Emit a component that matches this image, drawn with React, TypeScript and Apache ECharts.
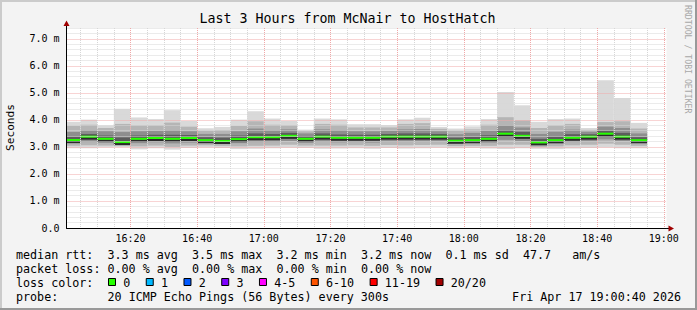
import React, { useEffect, useRef } from 'react';
import * as echarts from 'echarts';

// ---- data ----
const intervalEnds = [
  '16:05', '16:10', '16:15', '16:20', '16:25', '16:30', '16:35', '16:40', '16:45', '16:50', '16:55', '17:00',
  '17:05', '17:10', '17:15', '17:20', '17:25', '17:30', '17:35', '17:40', '17:45', '17:50', '17:55', '18:00',
  '18:05', '18:10', '18:15', '18:20', '18:25', '18:30', '18:35', '18:40', '18:45', '18:50', '18:55',
];
const pingMin = [2.95, 2.95, 2.98, 2.99, 2.91, 2.95, 2.90, 2.96, 2.98, 2.96, 2.92, 2.93, 2.95, 2.97, 2.96, 2.93, 2.94, 2.95, 2.93, 2.96, 2.94, 2.95, 2.97, 2.95, 2.96, 2.94, 2.92, 2.95, 2.93, 2.92, 2.94, 2.96, 2.98, 2.95, 2.95];
const pingP10 = [3.04, 3.06, 3.05, 3.04, 3.02, 3.05, 3.00, 3.05, 3.06, 3.04, 3.02, 3.04, 3.05, 3.08, 3.05, 3.05, 3.05, 3.06, 3.04, 3.07, 3.06, 3.07, 3.08, 3.03, 3.04, 3.04, 3.08, 3.08, 3.00, 3.02, 3.06, 3.08, 3.12, 3.08, 3.04];
const pingP25 = [3.13, 3.18, 3.15, 3.10, 3.14, 3.17, 3.13, 3.16, 3.14, 3.12, 3.14, 3.18, 3.18, 3.22, 3.15, 3.19, 3.17, 3.18, 3.16, 3.20, 3.20, 3.20, 3.21, 3.11, 3.13, 3.16, 3.26, 3.22, 3.07, 3.12, 3.18, 3.21, 3.28, 3.22, 3.13];
const pingP40 = [3.20, 3.30, 3.24, 3.14, 3.24, 3.27, 3.24, 3.26, 3.20, 3.17, 3.23, 3.29, 3.29, 3.34, 3.24, 3.31, 3.27, 3.28, 3.27, 3.31, 3.31, 3.31, 3.32, 3.18, 3.20, 3.25, 3.40, 3.34, 3.13, 3.20, 3.28, 3.32, 3.41, 3.32, 3.20];
const medianRtt = [3.26, 3.38, 3.30, 3.18, 3.30, 3.33, 3.30, 3.33, 3.25, 3.22, 3.29, 3.36, 3.36, 3.41, 3.30, 3.38, 3.34, 3.34, 3.34, 3.38, 3.38, 3.38, 3.38, 3.23, 3.25, 3.30, 3.49, 3.41, 3.17, 3.25, 3.34, 3.38, 3.49, 3.38, 3.25];
const pingP60 = [3.38, 3.48, 3.42, 3.35, 3.42, 3.45, 3.45, 3.44, 3.36, 3.34, 3.42, 3.50, 3.48, 3.52, 3.40, 3.50, 3.46, 3.45, 3.45, 3.48, 3.50, 3.50, 3.48, 3.34, 3.37, 3.43, 3.62, 3.55, 3.30, 3.38, 3.47, 3.47, 3.60, 3.52, 3.36];
const pingP75 = [3.55, 3.62, 3.58, 3.55, 3.58, 3.60, 3.62, 3.58, 3.48, 3.48, 3.58, 3.68, 3.62, 3.65, 3.50, 3.65, 3.62, 3.58, 3.58, 3.60, 3.65, 3.66, 3.58, 3.47, 3.52, 3.60, 3.80, 3.72, 3.48, 3.56, 3.64, 3.56, 3.75, 3.70, 3.50];
const pingP90 = [3.78, 3.82, 3.70, 3.85, 3.80, 3.80, 3.90, 3.75, 3.60, 3.62, 3.78, 3.95, 3.82, 3.80, 3.58, 3.85, 3.82, 3.72, 3.72, 3.72, 3.85, 3.88, 3.67, 3.60, 3.65, 3.82, 4.10, 3.98, 3.70, 3.80, 3.85, 3.63, 3.92, 3.95, 3.68];
const pingMax = [3.93, 4.01, 3.80, 4.41, 4.09, 4.03, 4.36, 3.96, 3.69, 3.74, 4.01, 4.32, 4.05, 3.96, 3.64, 4.05, 4.02, 3.84, 3.84, 3.81, 4.02, 4.08, 3.74, 3.68, 3.76, 4.03, 5.03, 4.54, 3.93, 4.03, 4.05, 3.70, 5.47, 4.81, 3.89];

const xTickLabels = ['16:20', '16:40', '17:00', '17:20', '17:40', '18:00', '18:20', '18:40', '19:00'];
const yTickLabels = ['0.0', '1.0 m', '2.0 m', '3.0 m', '4.0 m', '5.0 m', '6.0 m', '7.0 m'];
const lossLabels = ['0', '1', '2', '3', '4-5', '6-10', '11-19', '20/20'];
const lossColors = ['#26ff00', '#00b8ff', '#0059ff', '#7e00ff', '#ff00ff', '#ff5500', '#ff0000', '#a10000'];
const legendLine1 = 'median rtt:  3.3 ms avg  3.5 ms max  3.2 ms min  3.2 ms now  0.1 ms sd  47.7   am/s';
const legendLine2 = 'packet loss: 0.00 % avg  0.00 % max  0.00 % min  0.00 % now';
const legendLine3 = 'loss color:';
const legendLine4 = 'probe:       20 ICMP Echo Pings (56 Bytes) every 300s';
const dateText = 'Fri Apr 17 19:00:40 2026';
const titleText = 'Last 3 Hours from McNair to HostHatch';
const unitText = 'Seconds';
const watermarkText = 'RRDTOOL / TOBI OETIKER';

const toMin = (s: string) => {
  const [h, m] = s.split(':').map(Number);
  return h * 60 + m;
};
const fmtMin = (v: number) => {
  const h = Math.floor(v / 60);
  const m = Math.round(v - h * 60);
  return `${h}:${m < 10 ? '0' : ''}${m}`;
};

const MONO = '"DejaVu Sans Mono", monospace';
const CHAR_W = 7.04;
const LEG_X = 16;

function segments(line: string) {
  const out: { col: number; text: string }[] = [];
  const re = /\S+(?: \S+)*/g;
  let m: RegExpExecArray | null;
  while ((m = re.exec(line))) out.push({ col: m.index, text: m[0] });
  return out;
}

export default function App() {
  const ref = useRef<HTMLDivElement>(null);
  useEffect(() => {
    if (!ref.current) return;
    const chart = echarts.init(ref.current, undefined, { renderer: 'svg' });

    const data = intervalEnds.map((e, i) => {
      const end = toMin(e);
      return [end - 5, end, pingMin[i], pingP10[i], pingP25[i], pingP40[i], medianRtt[i], pingP60[i], pingP75[i], pingP90[i], pingMax[i]];
    });

    const minorTicks: number[] = [];
    for (let t = 965; t <= 1140; t += 5) minorTicks.push(t);
    const majorTicks = xTickLabels.map(toMin);

    const grey = '#d6d6d6';
    const red = '#f0a8a8';

    const graphic: any[] = [];
    // frame
    graphic.push({ type: 'rect', silent: true, shape: { x: 0, y: 0, width: 697, height: 2 }, style: { fill: '#cbcbcb' } });
    graphic.push({ type: 'rect', silent: true, shape: { x: 0, y: 0, width: 2, height: 310 }, style: { fill: '#cbcbcb' } });
    graphic.push({ type: 'rect', silent: true, shape: { x: 695, y: 0, width: 2, height: 310 }, style: { fill: '#999999' } });
    graphic.push({ type: 'rect', silent: true, shape: { x: 0, y: 308, width: 697, height: 2 }, style: { fill: '#999999' } });
    // title
    graphic.push({ type: 'text', silent: true, style: { text: titleText, x: 347.5, y: 18.5, align: 'center', verticalAlign: 'middle', font: `13.3px ${MONO}`, fill: '#000' } });
    // unit
    graphic.push({ type: 'text', silent: true, x: 10.5, y: 127.5, rotation: Math.PI / 2, style: { text: unitText, x: 0, y: 0, align: 'center', verticalAlign: 'middle', font: `11.1px ${MONO}`, fill: '#000' } });
    // watermark
    graphic.push({ type: 'text', silent: true, x: 687.5, y: 5, rotation: -Math.PI / 2, style: { text: watermarkText, x: 0, y: 0, align: 'left', verticalAlign: 'middle', font: `8.2px ${MONO}`, fill: '#a8a8a8' } });
    // axis extensions + arrows
    graphic.push({ type: 'line', silent: true, shape: { x1: 66.5, y1: 28, x2: 66.5, y2: 23 }, style: { stroke: '#000', lineWidth: 1 } });
    graphic.push({ type: 'polygon', silent: true, shape: { points: [[63.5, 26], [69.5, 26], [66.5, 20.5]] }, style: { fill: '#a00000' } });
    graphic.push({ type: 'line', silent: true, shape: { x1: 666.5, y1: 228.5, x2: 670, y2: 228.5 }, style: { stroke: '#000', lineWidth: 1 } });
    graphic.push({ type: 'polygon', silent: true, shape: { points: [[668.5, 225.5], [668.5, 231.5], [674, 228.5]] }, style: { fill: '#a00000' } });

    // legend lines
    const lineYs = [254.5, 268.5, 282.5, 296.5];
    [legendLine1, legendLine2, legendLine3, legendLine4].forEach((ln, li) => {
      segments(ln).forEach((s) => {
        graphic.push({ type: 'text', silent: true, style: { text: s.text, x: LEG_X + s.col * CHAR_W, y: lineYs[li], align: 'left', verticalAlign: 'middle', font: `11.7px ${MONO}`, fill: '#000' } });
      });
    });
    // loss colour boxes
    let bx = 108.5;
    lossLabels.forEach((lab, i) => {
      graphic.push({ type: 'rect', silent: true, shape: { x: bx, y: 278.5, width: 7, height: 7 }, style: { fill: lossColors[i], stroke: '#000', lineWidth: 1 } });
      const tx = bx + 14.7;
      graphic.push({ type: 'text', silent: true, style: { text: lab, x: tx, y: lineYs[2], align: 'left', verticalAlign: 'middle', font: `11.7px ${MONO}`, fill: '#000' } });
      bx = tx + lab.length * CHAR_W + 16;
    });
    // date
    graphic.push({ type: 'text', silent: true, style: { text: dateText, x: 681, y: lineYs[3], align: 'right', verticalAlign: 'middle', font: `11.7px ${MONO}`, fill: '#000' } });

    const layerColors = ['#d9d9d9', '#b5b5b5', '#8e8e8e', '#5c5c5c'];

    chart.setOption({
      animation: false,
      backgroundColor: '#f3f3f3',
      grid: {
        left: 66.5, right: 30.5, top: 28, bottom: 82,
        show: true, backgroundColor: '#ffffff', borderWidth: 0,
        containLabel: false, outerBoundsMode: 'none',
      },
      xAxis: {
        type: 'value', min: 960.8, max: 1140.8, z: 3,
        axisLine: { show: true, onZero: false, lineStyle: { color: '#000', width: 1 } },
        axisTick: { show: false, customValues: minorTicks },
        axisLabel: {
          customValues: majorTicks, margin: 5,
          formatter: (v: number) => fmtMin(v),
          fontFamily: MONO, fontSize: 10, color: '#000',
        },
        splitLine: { show: true, lineStyle: { color: [grey, grey, grey, red], type: [1, 1], width: 1 } },
      },
      yAxis: {
        type: 'value', min: 0, max: 7.4, interval: 0.2, z: 3,
        axisLine: { show: true, lineStyle: { color: '#000', width: 1 } },
        axisTick: { show: false },
        axisLabel: {
          margin: 7, fontFamily: MONO, fontSize: 10, color: '#000',
          formatter: (v: number) => {
            const r = Math.round(v);
            return Math.abs(v - r) < 1e-6 && yTickLabels[r] ? yTickLabels[r] : '';
          },
        },
        splitLine: { show: true, lineStyle: { color: [red, grey, grey, grey, grey], type: [1, 1], width: 1 } },
      },
      series: [
        {
          type: 'custom',
          clip: true,
          encode: { x: [0, 1], y: [2, 10] },
          data,
          renderItem: (params: any, api: any) => {
            const t0 = api.value(0);
            const t1 = api.value(1);
            const xL = api.coord([t0, 0])[0];
            const xR = api.coord([t1, 0])[0];
            const y = (v: number) => api.coord([t0, v])[1];
            const rect = (a: number, b: number, fill: string) => ({
              type: 'rect',
              shape: { x: xL, y: y(b), width: xR - xL, height: y(a) - y(b) },
              style: { fill },
            });
            const v = (k: number) => api.value(k);
            const med = y(v(6));
            return {
              type: 'group',
              children: [
                rect(v(2), v(10), layerColors[0]),
                rect(v(3), v(9), layerColors[1]),
                rect(v(4), v(8), layerColors[2]),
                rect(v(5), v(7), layerColors[3]),
                { type: 'rect', shape: { x: xL, y: med + 1, width: xR - xL, height: 2 }, style: { fill: '#2a2a2a' } },
                { type: 'rect', shape: { x: xL, y: med - 1, width: xR - xL, height: 2 }, style: { fill: lossColors[0] } },
              ],
            };
          },
        },
      ],
      graphic,
    } as any);

    return () => chart.dispose();
  }, []);

  return <div ref={ref} style={{ position: 'absolute', left: 0, top: 0, width: 697, height: 310 }} />;
}
